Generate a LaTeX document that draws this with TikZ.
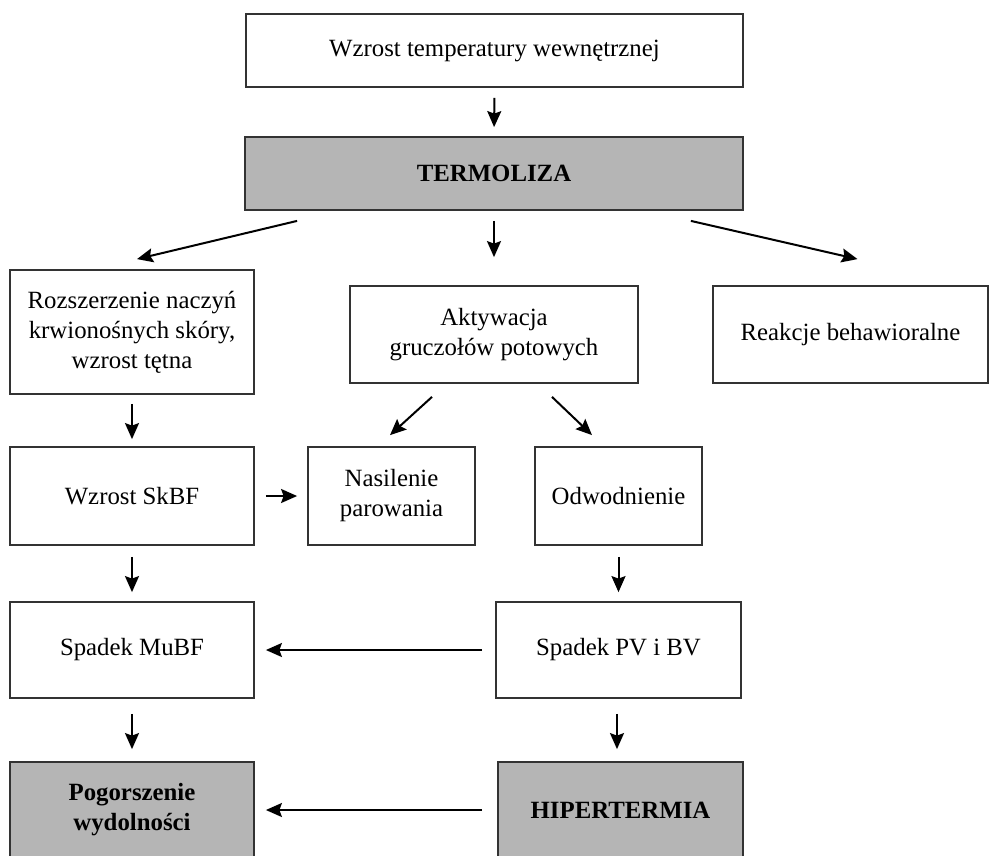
\documentclass[tikz,border=0pt]{standalone}
\usepackage{fontspec}
\setmainfont{Liberation Serif}
\usetikzlibrary{arrows.meta}
\begin{document}
\begin{tikzpicture}[x=1pt,y=1pt,
  box/.style={draw=black!80, line width=1.8pt, fill=white, align=center, inner sep=0pt, font=\fontsize{24.8}{30}\selectfont},
  graybox/.style={box, fill=black!29, font=\fontsize{24.8}{30}\selectfont\bfseries},
  arr/.style={line width=2pt, -{Stealth[length=16pt,width=14pt,inset=2.5pt]}}]
\useasboundingbox (0,0) rectangle (989,-855);
\clip (0,0) rectangle (989,-855);
% boxes
\node[box, minimum width=497pt, minimum height=73pt] (top) at (494.5,-50.5) {Wzrost temperatury wewnętrznej};
\node[graybox, minimum width=498pt, minimum height=73pt] (term) at (494,-173.5) {TERMOLIZA};
\node[box, minimum width=244pt, minimum height=124pt] (roz) at (132,-332) {Rozszerzenie naczyń\\krwionośnych skóry,\\wzrost tętna};
\node[box, minimum width=288pt, minimum height=97pt] (akt) at (494,-334.5) {Aktywacja\\gruczołów potowych};
\node[box, minimum width=275pt, minimum height=97pt] (reak) at (850.5,-334.5) {Reakcje behawioralne};
\node[box, minimum width=244pt, minimum height=98pt] (sk) at (132,-496) {Wzrost SkBF};
\node[box, minimum width=167pt, minimum height=98pt] (nas) at (391.5,-496) {Nasilenie\\parowania};
\node[box, minimum width=167pt, minimum height=98pt] (odw) at (618.5,-496) {Odwodnienie};
\node[box, minimum width=244pt, minimum height=96pt] (mu) at (132,-650) {Spadek MuBF};
\node[box, minimum width=245pt, minimum height=96pt] (pv) at (618.5,-650) {Spadek PV i BV};
\node[graybox, minimum width=244pt, minimum height=96pt] (pog) at (132,-810) {Pogorszenie\\wydolności};
\node[graybox, minimum width=245pt, minimum height=96pt] (hip) at (620.5,-810) {HIPERTERMIA};
% connectors
\draw[arr, shorten <=10pt, shorten >=9pt] (top.south) -- (term.north);
\draw[arr] ([xshift=53pt,yshift=-10pt]term.south west) -- ([xshift=5pt,yshift=10pt]roz.north);
\draw[arr] ([yshift=-10pt]term.south) -- ([yshift=28pt]akt.north);
\draw[arr] ([xshift=-53pt,yshift=-10pt]term.south east) -- ([xshift=7pt,yshift=26pt]reak.north);
\draw[arr] ([xshift=-62pt,yshift=-13pt]akt.south) -- ([xshift=-1.5pt,yshift=11pt]nas.north);
\draw[arr] ([xshift=58pt,yshift=-13pt]akt.south) -- ([xshift=-26.5pt,yshift=11pt]odw.north);
\draw[arr, shorten <=9pt, shorten >=7pt] (roz.south) -- (sk.north);
\draw[arr, shorten <=11pt, shorten >=10pt] (sk.east) -- (nas.west);
\draw[arr, shorten <=11pt, shorten >=9pt] (sk.south) -- (mu.north);
\draw[arr, shorten <=11pt, shorten >=9pt] (odw.south) -- (pv.north);
\draw[arr, shorten <=13pt, shorten >=11pt] (pv.west) -- (mu.east);
\draw[arr, shorten <=15pt, shorten >=12pt] (mu.south) -- (pog.north);
\draw[arr, shorten <=15pt, shorten >=12pt] ([xshift=-1.5pt]pv.south) -- ([xshift=-3.5pt]hip.north);
\draw[arr, shorten <=15pt, shorten >=11pt] (hip.west) -- (pog.east);
\end{tikzpicture}
\end{document}
